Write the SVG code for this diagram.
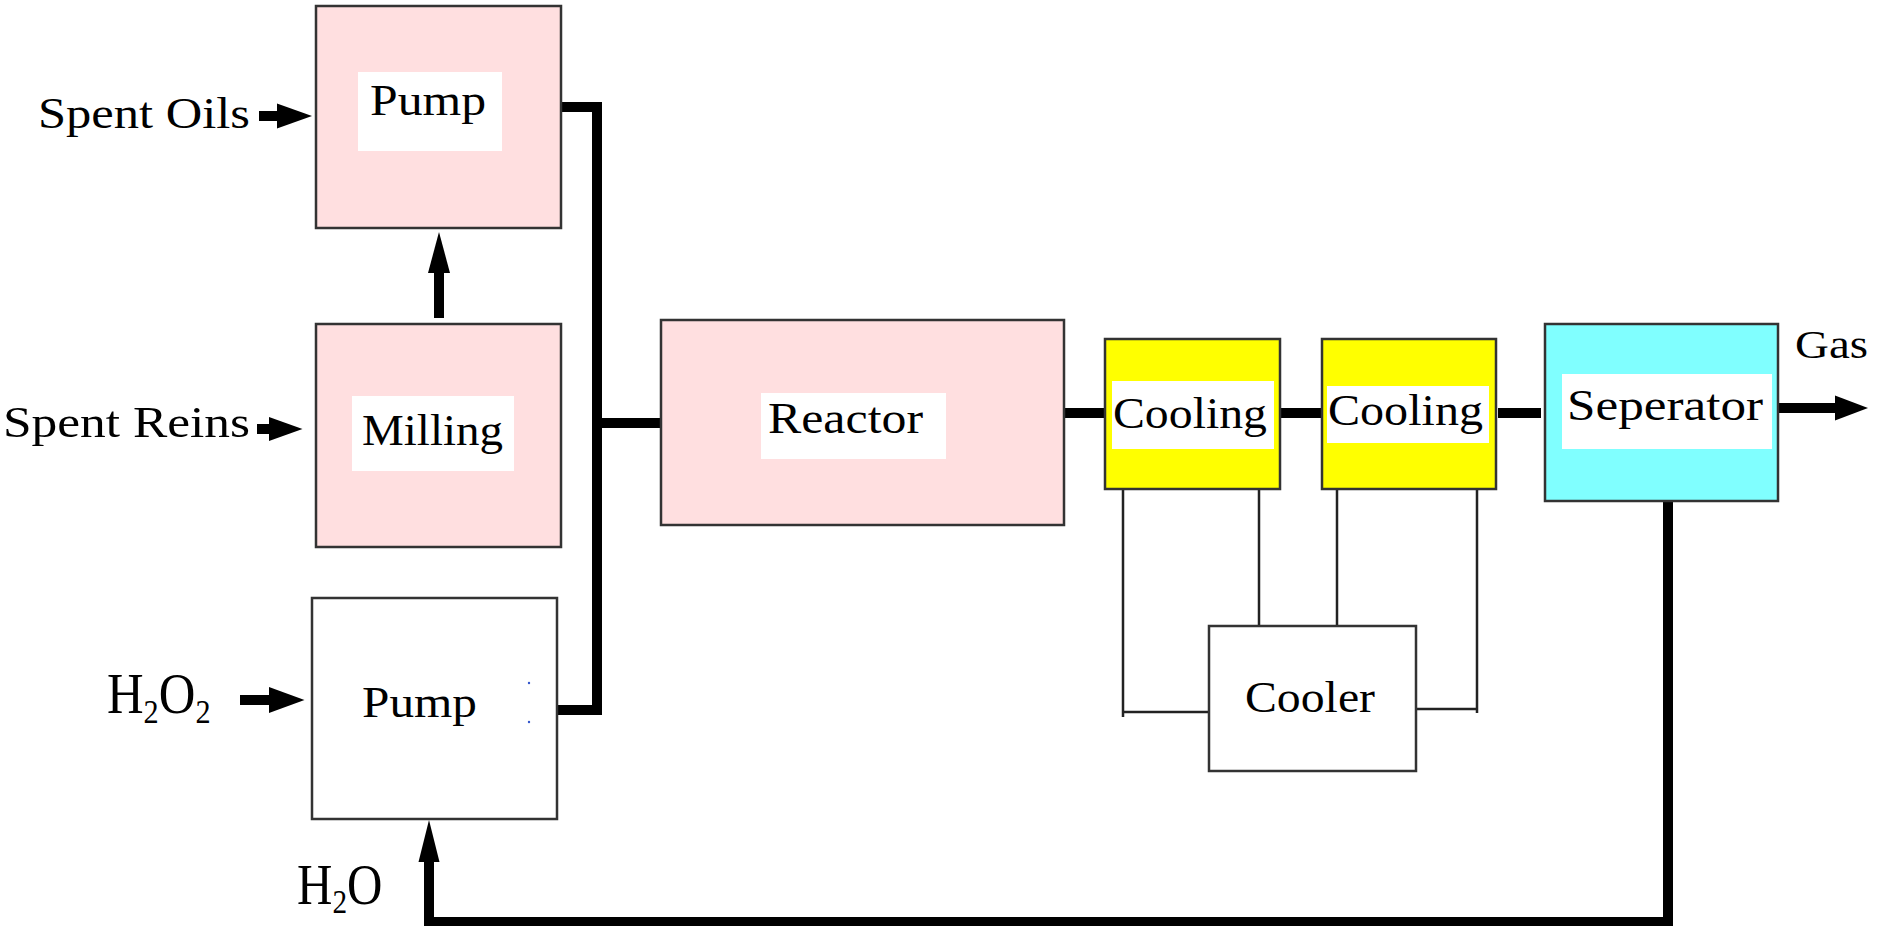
<svg xmlns="http://www.w3.org/2000/svg" width="1884" height="926" viewBox="0 0 1884 926">
<style>
.box{stroke:#333;stroke-width:2.5}
.pink{fill:#FFDFE0}
.yel{fill:#FFFF00}
.cyan{fill:#80FFFF}
.wht{fill:#FFFFFF}
.lbl{fill:#FFFFFF;stroke:none}
.t{font-family:"Liberation Serif","Times New Roman",serif;font-size:45px;fill:#000}
.chem{font-family:"Liberation Serif","Times New Roman",serif;font-size:57px;fill:#000}
.sub{font-size:34px}
.pipe{fill:none;stroke:#000;stroke-width:10;stroke-linejoin:miter}
.thin{fill:none;stroke:#222;stroke-width:2.5}
.head{fill:#000}
</style>
<rect width="1884" height="926" fill="#fff"/>
<g id="connectors">
  <path class="pipe" d="M558,107 H597 V710 H556"/>
  <circle cx="558" cy="107" r="6"/>
  <path class="pipe" d="M597,423 H663"/>
  <circle cx="663" cy="423" r="6"/>
  <path class="pipe" d="M1064,413 H1105"/>
  <path class="pipe" d="M1280,413 H1322"/>
  <path class="pipe" d="M1498,413 H1541"/>
  <path class="pipe" d="M1668,501 V922 H429 V860"/>
  <polygon class="head" points="429,820 418.5,862 439.5,862"/>
  <path class="pipe" stroke-width="8" d="M439,318 V270"/>
  <polygon class="head" points="439,232 428,273 450,273"/>
  <path class="pipe" d="M259,116 H280"/>
  <polygon class="head" points="312,116 277,103.5 277,128.5"/>
  <path class="pipe" d="M257,429 H272"/>
  <polygon class="head" points="302.5,429 269,417 269,441"/>
  <path class="pipe" d="M240,700 H272"/>
  <polygon class="head" points="304.5,700 269,687 269,713"/>
  <path class="pipe" d="M1775,408 H1810"/>
  <circle cx="1776" cy="408" r="5.5"/>
  <path class="pipe" stroke-width="7" d="M1808,408 H1838"/>
  <polygon class="head" points="1868,408 1835,395.5 1835,420.5"/>
  <path class="thin" d="M1123,489 V717 M1123,712 H1209"/>
  <path class="thin" d="M1259,489 V626"/>
  <path class="thin" d="M1337,489 V626"/>
  <path class="thin" d="M1477,489 V713 M1477,709 H1416"/>
</g>
<g id="pump-top">
  <rect class="box pink" x="316" y="6" width="245" height="222"/>
  <rect class="lbl" x="358" y="72" width="144" height="79"/>
  <text class="t" x="370" y="115" textLength="116" lengthAdjust="spacingAndGlyphs">Pump</text>
</g>
<g id="milling">
  <rect class="box pink" x="316" y="324" width="245" height="223"/>
  <rect class="lbl" x="352" y="396" width="162" height="75"/>
  <text class="t" x="362" y="445" textLength="141" lengthAdjust="spacingAndGlyphs">Milling</text>
</g>
<g id="pump-bottom">
  <rect class="box wht" x="312" y="598" width="245" height="221"/>
  <text class="t" x="362" y="717" textLength="115" lengthAdjust="spacingAndGlyphs">Pump</text>
  <circle cx="529" cy="683" r="1.2" fill="#3355cc"/>
  <circle cx="529" cy="722" r="1.2" fill="#3355cc"/>
</g>
<g id="reactor">
  <rect class="box pink" x="661" y="320" width="403" height="205"/>
  <rect class="lbl" x="761" y="393" width="185" height="66"/>
  <text class="t" x="768" y="433" textLength="155" lengthAdjust="spacingAndGlyphs">Reactor</text>
</g>
<g id="cooling1">
  <rect class="box yel" x="1105" y="339" width="175" height="150"/>
  <rect class="lbl" x="1112" y="381" width="162" height="68"/>
  <text class="t" x="1113" y="428" textLength="154" lengthAdjust="spacingAndGlyphs">Cooling</text>
</g>
<g id="cooling2">
  <rect class="box yel" x="1322" y="339" width="174" height="150"/>
  <rect class="lbl" x="1327" y="386" width="162" height="57"/>
  <text class="t" x="1328" y="425" textLength="155" lengthAdjust="spacingAndGlyphs">Cooling</text>
</g>
<g id="cooler">
  <rect class="box wht" x="1209" y="626" width="207" height="145"/>
  <text class="t" x="1245" y="712" textLength="130" lengthAdjust="spacingAndGlyphs">Cooler</text>
</g>
<g id="separator">
  <rect class="box cyan" x="1545" y="324" width="233" height="177"/>
  <rect class="lbl" x="1562" y="374" width="210" height="75"/>
  <text class="t" x="1567" y="420" textLength="196" lengthAdjust="spacingAndGlyphs">Seperator</text>
</g>
<g id="labels">
  <text class="t" x="38" y="128" textLength="212" lengthAdjust="spacingAndGlyphs">Spent Oils</text>
  <text class="t" x="3" y="437" textLength="247" lengthAdjust="spacingAndGlyphs">Spent Reins</text>
  <text class="t" x="1795" y="358" style="font-size:41px" textLength="73" lengthAdjust="spacingAndGlyphs">Gas</text>
  <text class="chem" transform="translate(107,713) scale(0.89,1)">H<tspan class="sub" dy="10">2</tspan><tspan dy="-10">O</tspan><tspan class="sub" dy="10">2</tspan></text>
  <text class="chem" transform="translate(297,904) scale(0.86,1)">H<tspan class="sub" dy="9">2</tspan><tspan dy="-9">O</tspan></text>
</g>
</svg>
